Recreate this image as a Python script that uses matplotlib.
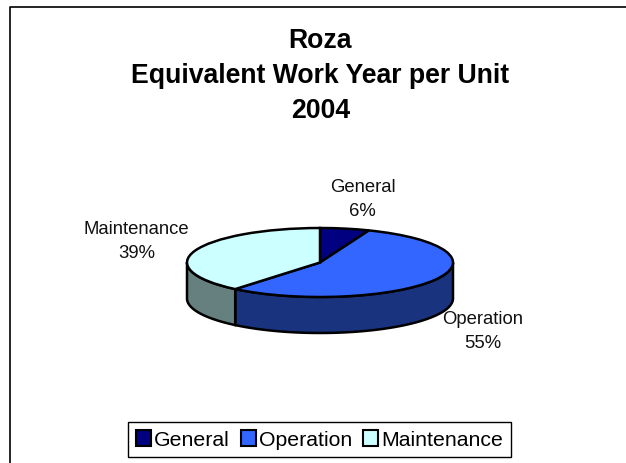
import numpy as np
import matplotlib
matplotlib.use('Agg')
import matplotlib.pyplot as plt
from matplotlib.lines import Line2D

plt.rcParams['font.family'] = ['Liberation Sans', 'DejaVu Sans']

categories = ['General', 'Operation', 'Maintenance']
values = [6, 55, 39]
top_colors = ['#000080', '#3366FF', '#CCFFFF']
side_colors = ['#000050', '#1A337F', '#667F7F']
title_lines = ['Roza', 'Equivalent Work Year per Unit', '2004']

W, H = 626, 463
fig = plt.figure(figsize=(W / 100, H / 100), dpi=100)

# pie axes: one unit is the ellipse radius, so squashing comes from the axes shape
cx, cy, rx, ry = 320, 262.5, 133, 34.5
depth = 36 / ry
ax = fig.add_axes([(cx - 1.5 * rx) / W, 1 - (cy + 3 * ry) / H, 3 * rx / W, 6 * ry / H])

wedges, _ = ax.pie(values, colors=top_colors, startangle=90, counterclock=False, radius=1,
                   wedgeprops={'edgecolor': 'black', 'linewidth': 1.8, 'zorder': 3})
ax.set_aspect('auto')
ax.set_xlim(-1.5, 1.5)
ax.set_ylim(-3, 3)

# side wall, only the front half of the rim is visible
frac = np.cumsum([0] + values) / sum(values)
for i in range(len(values)):
    a0 = np.pi / 2 - 2 * np.pi * frac[i]
    a1 = np.pi / 2 - 2 * np.pi * frac[i + 1]
    lo = max(min(a0, a1), -np.pi)
    hi = min(max(a0, a1), 0)
    if hi <= lo:
        continue
    t = np.linspace(lo, hi, 80)
    xs = np.cos(t)
    ys = np.sin(t)
    px = np.concatenate([xs, xs[::-1]])
    py = np.concatenate([ys, ys[::-1] - depth])
    ax.fill(px, py, facecolor=side_colors[i], edgecolor='black', linewidth=1.8, zorder=2, clip_on=False)

# pie labels
def pix_text(x, y, s, size, **kw):
    fig.text(x / W, 1 - y / H, s, size=size, ha='center', va='center', **kw)

pix_text(362.5, 199.5, categories[0] + '\n' + '%d%%' % values[0], 13.3, linespacing=1.53, color='#111111')
pix_text(482.5, 331.5, categories[1] + '\n' + '%d%%' % values[1], 13.3, linespacing=1.53, color='#111111')
pix_text(136.5, 241.5, categories[2] + '\n' + '%d%%' % values[2], 13.3, linespacing=1.53, color='#111111')

# title
pix_text(320.5, 76, '\n'.join(title_lines), 19.2, fontweight='bold', linespacing=1.44)

# chart frame: left and top only
fig.add_artist(Line2D([10 / W, 10 / W, 1], [0, 1 - 6.5 / H, 1 - 6.5 / H], color='black', linewidth=1.2))

leg = fig.legend(wedges, categories, ncol=3, loc='center', bbox_to_anchor=(319.5 / W, 1 - 439.75 / H),
                 fontsize=15.3, frameon=True, fancybox=False, edgecolor='black', framealpha=1,
                 handlelength=0.72, handleheight=0.8, handletextpad=0.15, columnspacing=0.5,
                 borderpad=0.36, borderaxespad=0)
leg.get_frame().set_linewidth(1)
for h in leg.legend_handles:
    h.set_linewidth(1.5)

fig.savefig('out.png', dpi=100)
